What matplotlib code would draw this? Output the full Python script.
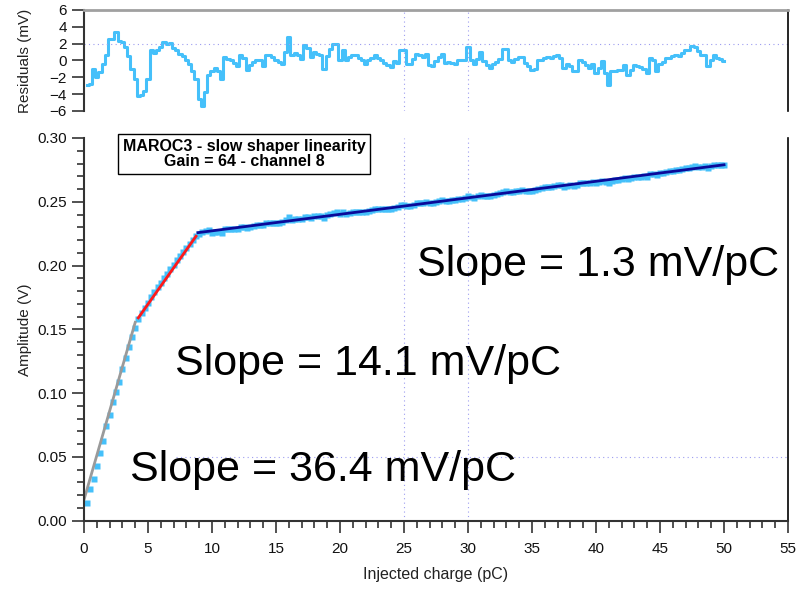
import numpy as np
import matplotlib
matplotlib.use("Agg")
import matplotlib.pyplot as plt
from matplotlib.ticker import MultipleLocator, FormatStrFormatter

plt.rcParams['font.family'] = ['Liberation Sans', 'DejaVu Sans']

# injected charge, 0.25 pC steps
charge = np.arange(1, 201) * 0.25

# residuals of the fit (mV)
residuals = [
    -2.9, -2.8, -1.0, -2.0, -1.4, -0.4, 0.6, 2.5, 2.6, 3.4,
    2.3, 2.2, 1.6, 0.5, -1.0, -2.2, -4.2, -4.1, -3.6, -2.2,
    1.3, 0.9, 1.2, 1.6, 2.2, 2.0, 2.1, 1.5, 1.2, 0.8,
    0.5, 0.1, -0.4, -1.2, -2.2, -4.6, -5.4, -3.7, -1.7, -1.3,
    -0.9, -1.2, -2.2, 0.4, 0.2, 0.0, -0.3, -0.7, 0.6, 0.25,
    -1.1, -0.5, -0.2, 0.0, 0.1, -0.7, 0.6, 0.6, 0.4, 0.1,
    -0.2, -0.4, 1.0, 2.8, 0.7, 0.9, 0.6, 0.2, 1.8, 1.5,
    0.4, 1.0, 0.8, 0.6, -1.0, 0.5, 1.4, 1.9, 2.0, 0.0,
    1.3, 0.0, 0.4, 0.6, 0.6, 0.3, 0.0, -0.4, 0.1, 0.3,
    0.7, 0.3, 0.0, -0.3, -0.5, -0.8, -0.1, -0.3, 1.2, 1.2,
    -0.4, -0.4, 0.2, 0.8, 0.6, 0.4, 0.8, -0.5, -0.7, -0.1,
    0.4, 0.8, -0.3, -0.2, -0.3, -0.4, 0.0, 0.0, 0.0, 1.6,
    0.1, -0.4, 0.2, 1.0, -0.1, -0.5, -0.9, -0.4, -0.2, 0.2,
    1.4, 1.4, 0.0, -0.2, 0.2, 0.4, 0.4, -0.3, -0.6, -1.1,
    -1.0, 0.0, 0.1, 0.3, 0.4, 0.3, 0.5, 0.6, 0.3, -0.9,
    -0.4, -0.7, -1.3, -1.2, 0.0, -0.2, -0.5, -0.9, -0.4, -1.5,
    -0.9, -0.1, -1.5, -2.9, -1.3, -1.2, -1.1, -1.1, -0.5, -1.7,
    -1.1, -0.5, -0.6, -0.8, -1.0, -1.5, 0.3, 0.1, -1.3, -0.4,
    -0.2, 0.3, 0.3, 0.5, 0.7, 0.5, 0.9, 1.2, 1.3, 1.7,
    1.6, 1.1, 0.7, 0.6, -0.6, 0.1, 0.7, 0.3, 0.2, -0.1,
]

# measured amplitude (V)
amplitude = [
    0.0141, 0.0249, 0.0328, 0.0430, 0.0530, 0.0626, 0.0739, 0.0830, 0.0927, 0.1009,
    0.1090, 0.1190, 0.1275, 0.1360, 0.1440, 0.1510, 0.1580, 0.1625, 0.1670, 0.1710,
    0.1750, 0.1790, 0.1830, 0.1865, 0.1900, 0.1935, 0.1970, 0.2005, 0.2040, 0.2075,
    0.2105, 0.2140, 0.2170, 0.2200, 0.2228, 0.2250, 0.2262, 0.2268, 0.2275, 0.2258,
    0.2265, 0.2265, 0.2258, 0.2288, 0.2289, 0.2290, 0.2290, 0.2290, 0.2306, 0.2306,
    0.2295, 0.2305, 0.2311, 0.2316, 0.2320, 0.2316, 0.2332, 0.2335, 0.2336, 0.2337,
    0.2337, 0.2338, 0.2355, 0.2377, 0.2359, 0.2364, 0.2364, 0.2364, 0.2383, 0.2383,
    0.2375, 0.2385, 0.2386, 0.2387, 0.2374, 0.2393, 0.2405, 0.2413, 0.2417, 0.2401,
    0.2417, 0.2407, 0.2414, 0.2420, 0.2423, 0.2423, 0.2423, 0.2423, 0.2431, 0.2436,
    0.2443, 0.2443, 0.2443, 0.2443, 0.2444, 0.2445, 0.2455, 0.2456, 0.2474, 0.2478,
    0.2465, 0.2468, 0.2477, 0.2487, 0.2488, 0.2489, 0.2496, 0.2487, 0.2488, 0.2497,
    0.2505, 0.2513, 0.2505, 0.2509, 0.2511, 0.2514, 0.2521, 0.2524, 0.2527, 0.2547,
    0.2535, 0.2533, 0.2542, 0.2554, 0.2546, 0.2545, 0.2544, 0.2553, 0.2558, 0.2565,
    0.2580, 0.2584, 0.2573, 0.2574, 0.2581, 0.2587, 0.2590, 0.2586, 0.2586, 0.2585,
    0.2589, 0.2602, 0.2606, 0.2612, 0.2616, 0.2618, 0.2623, 0.2628, 0.2628, 0.2619,
    0.2627, 0.2628, 0.2625, 0.2629, 0.2644, 0.2646, 0.2646, 0.2645, 0.2653, 0.2646,
    0.2655, 0.2666, 0.2655, 0.2645, 0.2664, 0.2668, 0.2672, 0.2676, 0.2685, 0.2676,
    0.2685, 0.2695, 0.2697, 0.2698, 0.2699, 0.2698, 0.2719, 0.2720, 0.2709, 0.2722,
    0.2727, 0.2735, 0.2738, 0.2744, 0.2749, 0.2750, 0.2757, 0.2764, 0.2768, 0.2775,
    0.2777, 0.2776, 0.2775, 0.2777, 0.2768, 0.2779, 0.2788, 0.2787, 0.2789, 0.2790,
]

# linear fits: end points of each segment
fit_x = [[0.0, 4.0], [4.24, 8.75], [8.9, 50.0]]
fit_y = [[0.0165, 0.1555], [0.159, 0.223], [0.2258, 0.279]]
fit_colors = ["#9a9a9a", "#ff1a1a", "#0a0a9a"]

slope_labels = ["Slope = 36.4 mV/pC", "Slope = 14.1 mV/pC", "Slope = 1.3 mV/pC"]
slope_pos = [(3.6, 0.0398), (7.1, 0.1231), (26.0, 0.2007)]

grid_x = [25, 30]

data_col = "#45c0fa"
grid_col = "#9c9cf0"

fig = plt.figure(figsize=(7.98, 5.91), dpi=100)
ax_r = fig.add_axes([0.1053, 0.8122, 0.8822, 0.1709])
ax = fig.add_axes([0.1053, 0.1190, 0.8822, 0.6475])

# residual panel
ax_r.step(charge, residuals, where="mid", color=data_col, lw=2.2)
ax_r.set_xlim(0, 55)
ax_r.set_ylim(-6, 6)
ax_r.set_yticks([-6, -4, -2, 0, 2, 4, 6])
ax_r.set_xticks([])
ax_r.axhline(2, color=grid_col, lw=0.8, ls=(0, (1, 3)))
for gx in grid_x:
    ax_r.axvline(gx, color=grid_col, lw=0.8, ls=(0, (1, 3)))
ax_r.spines["bottom"].set_visible(False)
ax_r.spines["top"].set_color("#a0a0a0")
ax_r.spines["top"].set_linewidth(2)
ax_r.spines["left"].set_color("#333333")
ax_r.spines["left"].set_linewidth(1.5)
ax_r.spines["right"].set_linewidth(1.2)
ax_r.tick_params(axis="y", direction="out", length=8.5, width=1.2, pad=4,
                 labelsize=11, colors="#333333", labelcolor="#111111")
ax_r.set_ylabel("Residuals (mV)", fontsize=11, color="#222222")
ax_r.yaxis.set_label_coords(-0.074, 0.5)

# main panel
ax.plot(charge, amplitude, ls="none", marker="s", ms=4.4, mec="none", color=data_col)
for xs, ys, c in zip(fit_x, fit_y, fit_colors):
    ax.plot(xs, ys, color=c, lw=2)
for gx in grid_x:
    ax.axvline(gx, color=grid_col, lw=0.8, ls=(0, (1, 3)), zorder=0)
ax.axhline(0.05, xmin=0.13, color=grid_col, lw=0.8, ls=(0, (1, 3)), zorder=0)

ax.set_xlim(0, 55)
ax.set_ylim(0, 0.30)
ax.xaxis.set_major_locator(MultipleLocator(5))
ax.xaxis.set_minor_locator(MultipleLocator(1))
ax.yaxis.set_major_locator(MultipleLocator(0.05))
ax.yaxis.set_minor_locator(MultipleLocator(0.01))
ax.yaxis.set_major_formatter(FormatStrFormatter("%.2f"))
ax.spines["top"].set_visible(False)
for s in ["left", "bottom"]:
    ax.spines[s].set_color("#333333")
    ax.spines[s].set_linewidth(1.5)
ax.spines["right"].set_linewidth(1.2)
ax.tick_params(which="major", direction="out", length=8.5, width=1.2,
               labelsize=11, colors="#333333", labelcolor="#111111")
ax.tick_params(which="minor", direction="out", length=5, width=1.2, colors="#333333")
ax.tick_params(axis="x", which="major", pad=7)
ax.set_xlabel("Injected charge (pC)", fontsize=11.5, color="#222222", labelpad=8)
ax.set_ylabel("Amplitude (V)", fontsize=11, color="#222222")
ax.yaxis.set_label_coords(-0.074, 0.5)

ax.text(12.5, 0.2873, "MAROC3 - slow shaper linearity\nGain = 64 - channel 8",
        ha="center", va="center", fontsize=11.5, fontweight="bold", linespacing=1.05,
        bbox=dict(boxstyle="square,pad=0.3", fc="white", ec="black", lw=1))

for lab, (tx, ty) in zip(slope_labels, slope_pos):
    ax.text(tx, ty, lab, ha="left", va="center", fontsize=31, color="black")

fig.savefig("out.png", dpi=100)
